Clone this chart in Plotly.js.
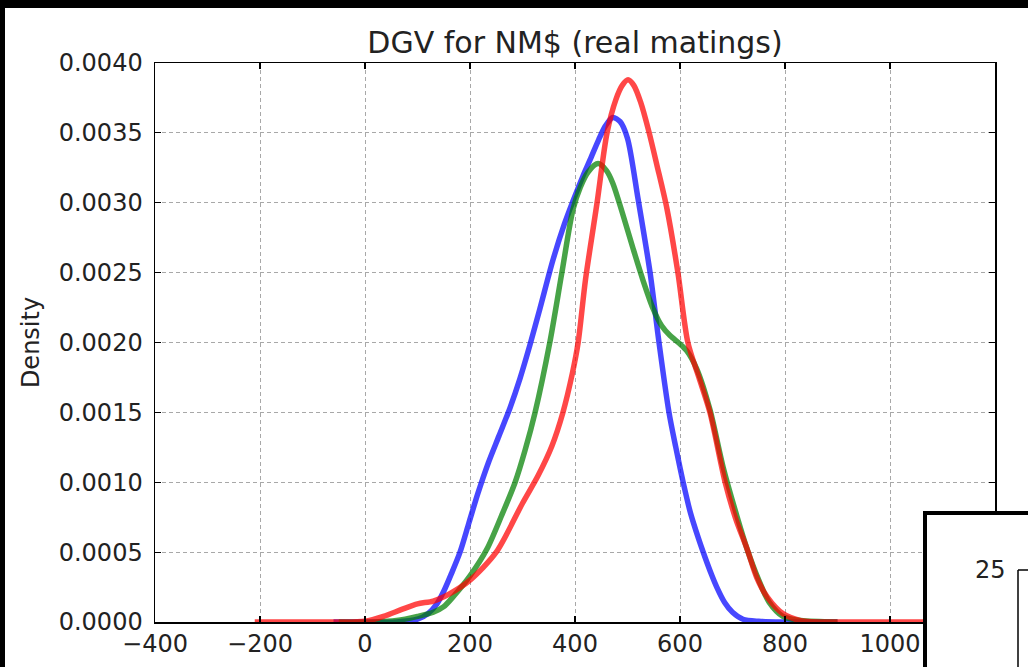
<!DOCTYPE html>
<html>
<head>
<meta charset="utf-8">
<script src="https://cdn.plot.ly/plotly-3.0.1.min.js"></script>
<style>
  html, body { margin: 0; padding: 0; background: #000; width: 1028px; height: 667px; overflow: hidden; }
  #chart { position: absolute; left: 5px; top: 8px; width: 1023px; height: 659px; }
</style>
</head>
<body>
<div id="chart"></div>
<script>
// ---- data ----
const titleText = "DGV for NM$ (real matings)";
const yLabel = "Density";
const xTicks = [-400, -200, 0, 200, 400, 600, 800, 1000, 1200];
const yTicks = [0, 0.0005, 0.001, 0.0015, 0.002, 0.0025, 0.003, 0.0035, 0.004];
const insetTickLabel = "25";

const blueX = [-60, 0, 60, 100, 120, 137, 150, 165, 181, 198, 215, 235, 255, 276, 295, 314, 333, 358, 380, 396, 415, 429, 445, 458, 472, 486, 500, 520, 543, 560, 579, 592, 606, 620, 635, 648, 660, 670, 685, 700, 720, 750, 800, 900];
const blueY = [0, 0, 0, 0.00002, 0.00006, 0.00013, 0.00022, 0.00035, 0.0005, 0.00071, 0.00092, 0.00114, 0.00133, 0.00153, 0.00174, 0.00198, 0.00224, 0.00259, 0.00285, 0.00301, 0.00319, 0.00331, 0.00345, 0.00355, 0.00361, 0.00358, 0.00346, 0.00303, 0.0025, 0.002, 0.0015, 0.00125, 0.001, 0.00078, 0.0006, 0.00046, 0.00034, 0.00025, 0.00014, 0.00007, 0.00002, 0.000005, 0, 0];

const greenX = [-50, 20, 60, 100, 130, 150, 170, 200, 232, 260, 286, 305, 324, 352, 375, 396, 410, 425, 444, 460, 472, 490, 510, 530, 549, 565, 581, 600, 613, 632, 657, 682, 709, 728, 750, 770, 796, 830, 900];
const greenY = [0, 0, 0.00001, 0.00004, 0.00007, 0.00011, 0.00019, 0.00033, 0.00052, 0.00076, 0.001, 0.00123, 0.0015, 0.002, 0.0025, 0.00295, 0.00311, 0.00322, 0.00328, 0.00323, 0.00314, 0.00293, 0.00268, 0.00244, 0.00224, 0.00212, 0.00205, 0.00199, 0.00194, 0.00181, 0.00152, 0.00111, 0.00075, 0.00052, 0.0003, 0.00014, 0.00004, 0.00001, 0];

const redX = [-210, -150, -60, 0, 35, 70, 100, 130, 160, 200, 250, 300, 330, 356, 377, 395, 406, 420, 442, 461, 478, 490, 501, 512, 525, 540, 556, 575, 596, 615, 636, 657, 686, 706, 728, 746, 766, 796, 830, 900, 1000, 1090];
const redY = [0, 0, 0, 0.000005, 0.00004, 0.00009, 0.00013, 0.00015, 0.0002, 0.0003, 0.0005, 0.00085, 0.00105, 0.00126, 0.0015, 0.00178, 0.002, 0.00245, 0.003, 0.0035, 0.00374, 0.00384, 0.00388, 0.00384, 0.00372, 0.00352, 0.00327, 0.00296, 0.0025, 0.002, 0.00175, 0.0015, 0.001, 0.00074, 0.00052, 0.00032, 0.00018, 0.00006, 0.00001, 0, 0, 0];

// ---- layout geometry (pixels inside the chart div) ----
const W = 1023, H = 659;
const M = { l: 150, r: 33, t: 55, b: 45 };
const PW = W - M.l - M.r, PH = H - M.t - M.b;
const px = x => (x - M.l) / PW;          // div px -> paper x
const py = y => 1 - (y - M.t) / PH;      // div px -> paper y

const FONT = "DejaVu Sans, Liberation Sans, sans-serif";

function kde(x, y, color, name) {
  return {
    type: "scatter", mode: "lines", x: x, y: y, name: name,
    line: { color: color, width: 5.5, shape: "spline", smoothing: 0.8 },
    opacity: 0.72, hoverinfo: "skip"
  };
}

const traces = [
  kde(blueX, blueY, "#0000ff", "blue"),
  kde(greenX, greenY, "#008000", "green"),
  kde(redX, redY, "#ff0000", "red")
];

const axisCommon = {
  showline: true, linecolor: "#000", linewidth: 1.5, mirror: "ticks",
  ticks: "inside", ticklen: 6, tickwidth: 1.2, tickcolor: "#000",
  showgrid: true, gridcolor: "#a8a8a8", gridwidth: 1, griddash: "4px,3px",
  zeroline: false, tickfont: { family: FONT, size: 24, color: "#222" },
  fixedrange: true
};

const layout = {
  width: W, height: H,
  margin: M,
  paper_bgcolor: "#fff", plot_bgcolor: "#fff",
  showlegend: false,
  title: {
    text: titleText, font: { family: FONT, size: 30, color: "#222" },
    x: 0.5, xref: "paper", xanchor: "center",
    y: 1 - 34 / H, yref: "container", yanchor: "middle"
  },
  xaxis: Object.assign({}, axisCommon, {
    range: [-400, 1200], tickmode: "array", tickvals: xTicks,
    ticktext: xTicks.map(v => (v < 0 ? "\u2212" + Math.abs(v) : String(v))),
    ticklabelstandoff: 0
  }),
  yaxis: Object.assign({}, axisCommon, {
    range: [0, 0.004], tickmode: "array", tickvals: yTicks,
    ticktext: yTicks.map(v => v.toFixed(4)),
    ticklabelstandoff: 6,
    title: { text: yLabel, font: { family: FONT, size: 24, color: "#222" }, standoff: 12 }
  }),
  shapes: [
    // inset panel overlapping the lower right corner
    { type: "rect", xref: "paper", yref: "paper", layer: "above",
      x0: px(920), x1: px(1040), y0: py(505), y1: py(680),
      fillcolor: "#fff", line: { color: "#000", width: 4 } },
    // inset axis spines
    { type: "line", xref: "paper", yref: "paper", layer: "above",
      x0: px(1013), x1: px(1013), y0: py(562), y1: py(680),
      line: { color: "#000", width: 1.5 } },
    { type: "line", xref: "paper", yref: "paper", layer: "above",
      x0: px(1013), x1: px(1040), y0: py(562), y1: py(562),
      line: { color: "#000", width: 1.5 } }
  ],
  annotations: [
    { text: insetTickLabel, xref: "paper", yref: "paper",
      x: px(1003), y: py(562), xanchor: "right", yanchor: "middle",
      showarrow: false, font: { family: FONT, size: 24, color: "#222" } }
  ]
};

Plotly.newPlot("chart", traces, layout, { staticPlot: true, displayModeBar: false });
</script>
</body>
</html>
